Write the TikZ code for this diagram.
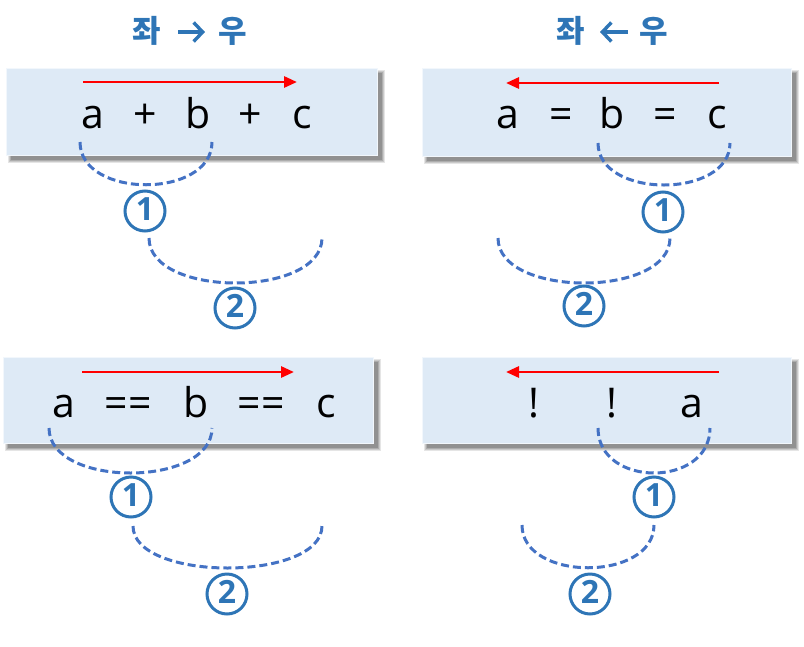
\documentclass[tikz,border=0pt]{standalone}
\usepackage{fontspec}
\setmainfont{Open Sans}
\newfontfamily\krfont{Noto Sans CJK KR}
\usetikzlibrary{arrows.meta,calc}
\definecolor{boxfill}{HTML}{DEEAF6}
\definecolor{boxline}{HTML}{F2F7FC}
\definecolor{titleblue}{HTML}{2E75B6}
\definecolor{dashblue}{HTML}{4472C4}
\tikzset{
  sym/.style={anchor=base, inner sep=0pt, font=\fontsize{41}{48}\selectfont},
  ttl/.style={anchor=base, inner sep=0pt, text=titleblue, font=\krfont\bfseries\fontsize{31}{34}\selectfont},
  ttlarrow/.style={draw=titleblue, line width=3.4pt, -{Straight Barb[length=9pt,width=19pt,line width=3.4pt]}},
  redarr/.style={draw=red, line width=2.8pt, -{Triangle[length=13pt,width=11pt]}},
  arcline/.style={draw=dashblue, line width=3pt, dash pattern=on 8pt off 4pt},
  numc/.style={circle, draw=titleblue, line width=3pt, minimum size=40pt, inner sep=0pt,
    text=titleblue, text depth=4pt, font=\bfseries\fontsize{32}{34}\selectfont},
  panel/.style={fill=boxfill, draw=boxline, line width=1pt},
}
\newcommand{\shadowbox}[2]{%
  \foreach \e/\o in {3/0.10,2/0.12,1/0.14,0/0.16}{%
    \fill[black, opacity=\o] ($#1+(5-\e,5-\e)$) rectangle ($#2+(5+\e,5+\e)$);}%
}
\begin{document}
\begin{tikzpicture}[x=1pt,y=-1pt]
\useasboundingbox (0,0) rectangle (804,646);
% ---------- titles
\node[ttl] (t1l) at (147,42) {좌};
\node[ttl] (t1r) at (233,42) {우};
\coordinate (t1a) at (178,32); \coordinate (t1b) at (205,32);
\draw[ttlarrow] (t1a) -- (t1b);
\node[ttl] (t2l) at (571,42) {좌};
\node[ttl] (t2r) at (654,42) {우};
\coordinate (t2a) at (628,32); \coordinate (t2b) at (600,32);
\draw[ttlarrow] (t2a) -- (t2b);
% ---------- boxes with shadows
\shadowbox{(6,68)}{(377,155)}
\shadowbox{(422,68)}{(791,156)}
\shadowbox{(3,357)}{(373,443)}
\shadowbox{(422,357)}{(791,443)}
\path[panel] (6,68) rectangle (377,155);
\path[panel] (422,68) rectangle (791,156);
\path[panel] (3,357) rectangle (373,443);
\path[panel] (422,357) rectangle (791,443);
% ---------- top-left: a + b + c
\coordinate (ra1) at (83,82); \coordinate (rb1) at (297,82);
\draw[redarr] (ra1) -- (rb1);
\node[sym] (a1) at (93,128) {a};
\node[sym] (p1) at (145,128) {+};
\node[sym] (b1) at (198,128) {b};
\node[sym] (q1) at (250,128) {+};
\node[sym] (c1) at (302,128) {c};
\coordinate (u1a) at (80,142);  \coordinate (u1b) at (212,142);
\coordinate (v1a) at (149,238); \coordinate (v1b) at (322,238);
\draw[arcline] (u1a) .. controls +(0,57) and +(0,57) .. (u1b);
\draw[arcline] (v1a) .. controls +(0,60) and +(0,60) .. (v1b);
\node[numc] (n11) at (145,211) {1};
\node[numc] (n12) at (235,308) {2};
% ---------- top-right: a = b = c
\coordinate (ra2) at (719,83); \coordinate (rb2) at (506,83);
\draw[redarr] (ra2) -- (rb2);
\node[sym] (a2) at (508,128) {a};
\node[sym] (p2) at (561,128) {=};
\node[sym] (b2) at (612,128) {b};
\node[sym] (q2) at (665,128) {=};
\node[sym] (c2) at (717,128) {c};
\coordinate (u2a) at (598,143); \coordinate (u2b) at (730,143);
\coordinate (v2a) at (498,238); \coordinate (v2b) at (670,238);
\draw[arcline] (u2a) .. controls +(0,56) and +(0,56) .. (u2b);
\draw[arcline] (v2a) .. controls +(0,60) and +(0,60) .. (v2b);
\node[numc] (n21) at (663,212) {1};
\node[numc] (n22) at (584,306) {2};
% ---------- bottom-left: a == b == c
\coordinate (ra3) at (82,372); \coordinate (rb3) at (294,372);
\draw[redarr] (ra3) -- (rb3);
\node[sym] (a3) at (64,417) {a};
\node[sym] (p3) at (128,417) {==};
\node[sym] (b3) at (196,417) {b};
\node[sym] (q3) at (261,417) {==};
\node[sym] (c3) at (326,417) {c};
\coordinate (u3a) at (49,428);  \coordinate (u3b) at (212,428);
\coordinate (v3a) at (133,526); \coordinate (v3b) at (322,526);
\draw[arcline] (u3a) .. controls +(0,60) and +(0,60) .. (u3b);
\draw[arcline] (v3a) .. controls +(0,56) and +(0,56) .. (v3b);
\node[numc] (n31) at (131,497) {1};
\node[numc] (n32) at (227,594) {2};
% ---------- bottom-right: ! ! a
\coordinate (ra4) at (719,372); \coordinate (rb4) at (506,372);
\draw[redarr] (ra4) -- (rb4);
\node[sym] (e4) at (534,417) {!};
\node[sym] (f4) at (612,417) {!};
\node[sym] (a4) at (692,417) {a};
\coordinate (u4a) at (598,428); \coordinate (u4b) at (710,428);
\coordinate (v4a) at (522,525); \coordinate (v4b) at (654,525);
\draw[arcline] (u4a) .. controls +(0,60) and +(0,60) .. (u4b);
\draw[arcline] (v4a) .. controls +(0,57) and +(0,57) .. (v4b);
\node[numc] (n41) at (654,497) {1};
\node[numc] (n42) at (590,594) {2};
\end{tikzpicture}
\end{document}
